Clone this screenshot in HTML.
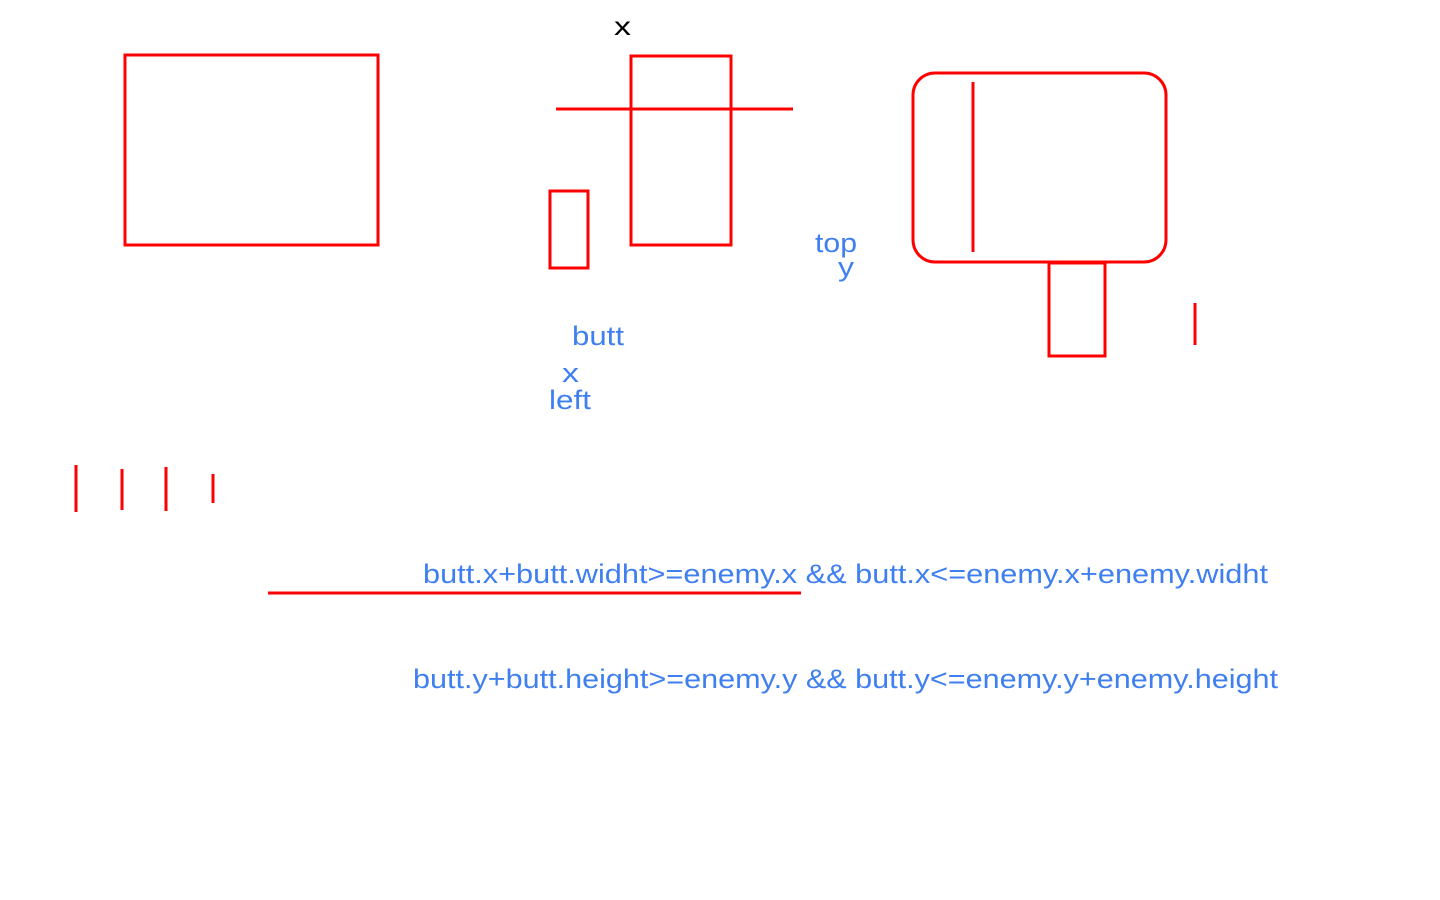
<!DOCTYPE html>
<html><head><meta charset="utf-8"><style>
html,body{margin:0;padding:0;background:#fff;width:1440px;height:900px;overflow:hidden}
svg{display:block}
text{font-family:"Liberation Sans",sans-serif}
</style></head><body>
<svg width="1440" height="900">
<g fill="none" stroke="#f00" stroke-width="3">
<rect x="125" y="55" width="253" height="190"/>
<line x1="556" y1="109" x2="793" y2="109"/>
<rect x="631" y="56" width="100" height="189"/>
<rect x="550" y="191" width="38" height="77"/>
<rect x="913" y="73" width="253" height="189" rx="22"/>
<line x1="973" y1="82" x2="973" y2="252"/>
<rect x="1049" y="263" width="56" height="93"/>
<line x1="1195" y1="303" x2="1195" y2="345"/>
<line x1="76" y1="465" x2="76" y2="512"/>
<line x1="122" y1="469" x2="122" y2="510"/>
<line x1="166" y1="467" x2="166" y2="511"/>
<line x1="213" y1="474" x2="213" y2="503"/>
<line x1="268" y1="593" x2="801" y2="593"/>
</g>
<text x="614" y="35" font-size="26" textLength="17" lengthAdjust="spacingAndGlyphs" fill="#000">x</text>
<g fill="#3f7ff0" font-size="27">
<text x="815" y="252" textLength="42" lengthAdjust="spacingAndGlyphs">top</text>
<text x="838" y="276" textLength="16" lengthAdjust="spacingAndGlyphs">y</text>
<text x="572" y="345" textLength="52" lengthAdjust="spacingAndGlyphs">butt</text>
<text x="562" y="382" textLength="17" lengthAdjust="spacingAndGlyphs">x</text>
<text x="549" y="409" textLength="42" lengthAdjust="spacingAndGlyphs">left</text>
<text x="423" y="583" textLength="845" lengthAdjust="spacingAndGlyphs">butt.x+butt.widht&gt;=enemy.x &amp;&amp; butt.x&lt;=enemy.x+enemy.widht</text>
<text x="413" y="688" textLength="865" lengthAdjust="spacingAndGlyphs">butt.y+butt.height&gt;=enemy.y &amp;&amp; butt.y&lt;=enemy.y+enemy.height</text>
</g>
</svg>
</body></html>
